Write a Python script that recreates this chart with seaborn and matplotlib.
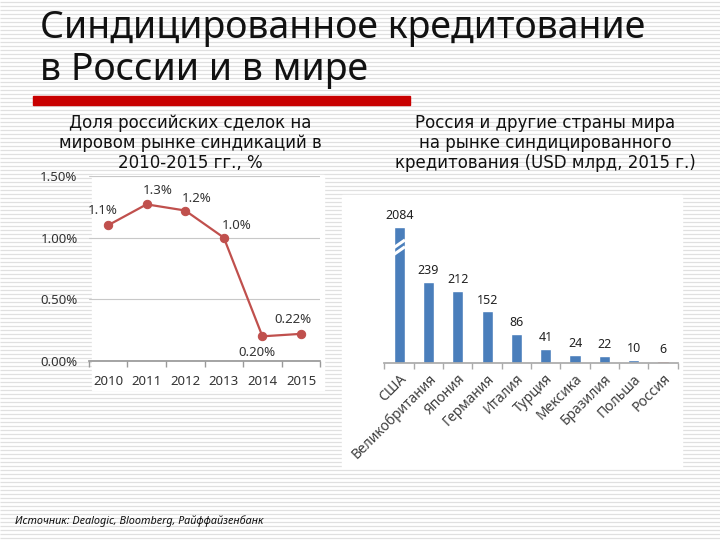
import numpy as np
import pandas as pd
import seaborn as sns
import matplotlib.pyplot as plt
from matplotlib.patches import Rectangle

# data
years = [2010, 2011, 2012, 2013, 2014, 2015]
share = [1.10, 1.27, 1.22, 1.00, 0.20, 0.22]
share_labels = ["1.1%", "1.3%", "1.2%", "1.0%", "0.20%", "0.22%"]

countries = ["США", "Великобритания", "Япония", "Германия", "Италия",
             "Турция", "Мексика", "Бразилия", "Польша", "Россия"]
volume = [2084, 239, 212, 152, 86, 41, 24, 22, 10, 6]
bar_cap = 400  # USA bar is drawn broken

sns.set_theme(style="white")
plt.rcParams["font.family"] = ["Noto Sans", "DejaVu Sans"]

fig = plt.figure(figsize=(7.2, 5.4), dpi=100)

# striped slide background, pixel coords
bg = fig.add_axes([0, 0, 1, 1], zorder=-10)
bg.set_xlim(0, 720)
bg.set_ylim(540, 0)
bg.axis("off")
bg.hlines(np.arange(2, 540, 4), 0, 720, color="#e0e0e0", lw=0.9, zorder=1)
bg.add_patch(Rectangle((92, 175), 232, 215, color="white", zorder=3))
bg.add_patch(Rectangle((342, 195), 340, 273, color="white", zorder=3))
bg.add_patch(Rectangle((33, 96), 377, 9, color="#c80000", zorder=3))

bg.text(40, 28, "Синдицированное кредитование", fontsize=27, va="center",
        ha="left", color="#111111", zorder=4)
bg.text(40, 70, "в России и в мире", fontsize=27, va="center",
        ha="left", color="#111111", zorder=4)
bg.text(190, 143, "Доля российских сделок на\nмировом рынке синдикаций в\n2010-2015 гг., %",
        fontsize=12, ha="center", va="center", linespacing=1.15, color="#111111",
        family=["DejaVu Sans"], zorder=4)
bg.text(545, 143, "Россия и другие страны мира\nна рынке синдицированного\nкредитования (USD млрд, 2015 г.)",
        fontsize=12, ha="center", va="center", linespacing=1.15, color="#111111",
        family=["DejaVu Sans"], zorder=4)
bg.text(15, 521, "Источник: Dealogic, Bloomberg, Райффайзенбанк", fontsize=7.8,
        style="italic", ha="left", va="center", color="#111111", zorder=4)

# left: share line chart
df_share = pd.DataFrame({"year": years, "share": share})
ax1 = fig.add_axes([0.1232, 0.3315, 0.3217, 0.3426])
ax1.set_facecolor("none")
sns.lineplot(data=df_share, x="year", y="share", ax=ax1, color="#c0504d",
             lw=1.6, marker="o", markersize=6, markeredgecolor="#c0504d")
ax1.set_xlim(2009.5, 2015.5)
ax1.set_ylim(0, 1.5)
ax1.set_yticks([0, 0.5, 1.0, 1.5])
ax1.set_yticklabels(["0.00%", "0.50%", "1.00%", "1.50%"])
ax1.set_xticks(years)
ax1.set_xticks(np.arange(2009.5, 2016, 1), minor=True)
ax1.tick_params(axis="x", which="major", length=0, pad=10, labelsize=9.5, labelcolor="#333333")
ax1.tick_params(axis="x", which="minor", length=4, color="#999999", direction="out", bottom=True)
ax1.tick_params(axis="y", length=0, pad=8, labelsize=9.5, labelcolor="#333333")
ax1.grid(axis="y", color="#c8c8c8", lw=0.8)
ax1.set_xlabel("")
ax1.set_ylabel("")
for s in ["top", "right", "left"]:
    ax1.spines[s].set_visible(False)
ax1.spines["bottom"].set_color("#999999")
offsets = [(-4, 11), (8, 10), (8, 9), (9, 9), (-4, -12), (-6, 10)]
for x, y, lab, off in zip(years, share, share_labels, offsets):
    ax1.annotate(lab, (x, y), xytext=off, textcoords="offset points",
                 ha="center", va="center", fontsize=9.5, color="#333333")

# right: bar chart
df_vol = pd.DataFrame({"country": countries,
                       "shown": [min(v, bar_cap) for v in volume]})
ax2 = fig.add_axes([0.534, 0.3278, 0.4072, 0.3148])
ax2.set_facecolor("none")
sns.barplot(data=df_vol, x="country", y="shown", ax=ax2, color="#4a7ebb",
            width=0.38, saturation=1)
ax2.patches[-1].set_facecolor("#c0504d")
ax2.set_xlim(-0.5, len(countries) - 0.5)
ax2.set_ylim(0, 500)
ax2.set_yticks([])
ax2.set_xlabel("")
ax2.set_ylabel("")
for s in ["top", "right", "left"]:
    ax2.spines[s].set_visible(False)
ax2.spines["bottom"].set_color("#aaaaaa")
ax2.set_xticks(np.arange(-0.5, len(countries), 1), minor=True)
ax2.tick_params(axis="x", which="minor", length=4, color="#aaaaaa", bottom=True)
ax2.tick_params(axis="x", which="major", length=0, pad=6)
ax2.set_xticklabels(countries, rotation=45, ha="right", rotation_mode="anchor",
                    fontsize=10, color="#404040")
for i, (v, h) in enumerate(zip(volume, df_vol["shown"])):
    ax2.text(i, h + 14, str(v), ha="center", va="bottom", fontsize=9,
             color="#222222", fontweight="bold" if countries[i] == "Россия" else "normal")
# break marks on the USA bar
for yb in (330, 350):
    ax2.plot([-0.2, 0.2], [yb - 12, yb + 12], color="white", lw=2.2, solid_capstyle="butt")

fig.savefig("out.png", dpi=100)
